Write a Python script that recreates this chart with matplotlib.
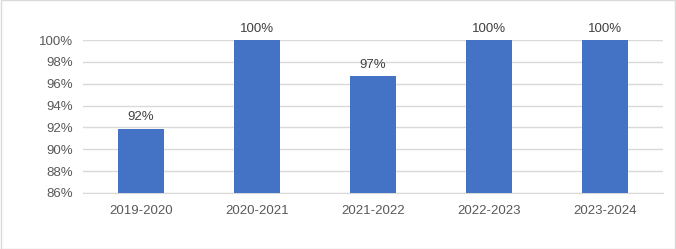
import matplotlib.pyplot as plt
from matplotlib.patches import Rectangle

# Data
years = ["2019-2020", "2020-2021", "2021-2022", "2022-2023", "2023-2024"]
rates = [91.9, 100.0, 96.7, 100.0, 100.0]
labels = ["92%", "100%", "97%", "100%", "100%"]
yticks = [86, 88, 90, 92, 94, 96, 98, 100]

plt.rcParams['font.family'] = ['Liberation Sans', 'DejaVu Sans']

fig = plt.figure(figsize=(6.76, 2.49), dpi=100)
ax = fig.add_axes([0.123, 0.225, 0.858, 0.614])

bars = ax.bar(range(len(years)), rates, width=0.4, color='#4472C4', zorder=3)

ax.set_ylim(86, 100)
ax.set_xlim(-0.5, len(years) - 0.5)
ax.set_yticks(yticks)
ax.set_yticklabels([f"{t}%" for t in yticks])
ax.set_xticks(range(len(years)))
ax.set_xticklabels(years)

ax.grid(axis='y', color='#D9D9D9', linewidth=1, zorder=0)
for s in ['top', 'right', 'left']:
    ax.spines[s].set_visible(False)
ax.spines['bottom'].set_color('#D9D9D9')
ax.tick_params(axis='both', length=0, labelsize=9.5, labelcolor='#595959')
ax.tick_params(axis='y', pad=7.5)
ax.tick_params(axis='x', pad=8.5)

# value labels above bars
for b, lab in zip(bars, labels):
    ax.annotate(lab, (b.get_x() + b.get_width() / 2, b.get_height()),
                xytext=(0, 4), textcoords='offset points',
                ha='center', va='bottom', fontsize=9.5, color='#404040',
                annotation_clip=False)

# light frame around the chart
fig.patches.append(Rectangle((0.001, 0.002), 0.997, 0.996, transform=fig.transFigure,
                             fill=False, edgecolor='#D9D9D9', linewidth=1))

fig.savefig('out.png', dpi=100)
